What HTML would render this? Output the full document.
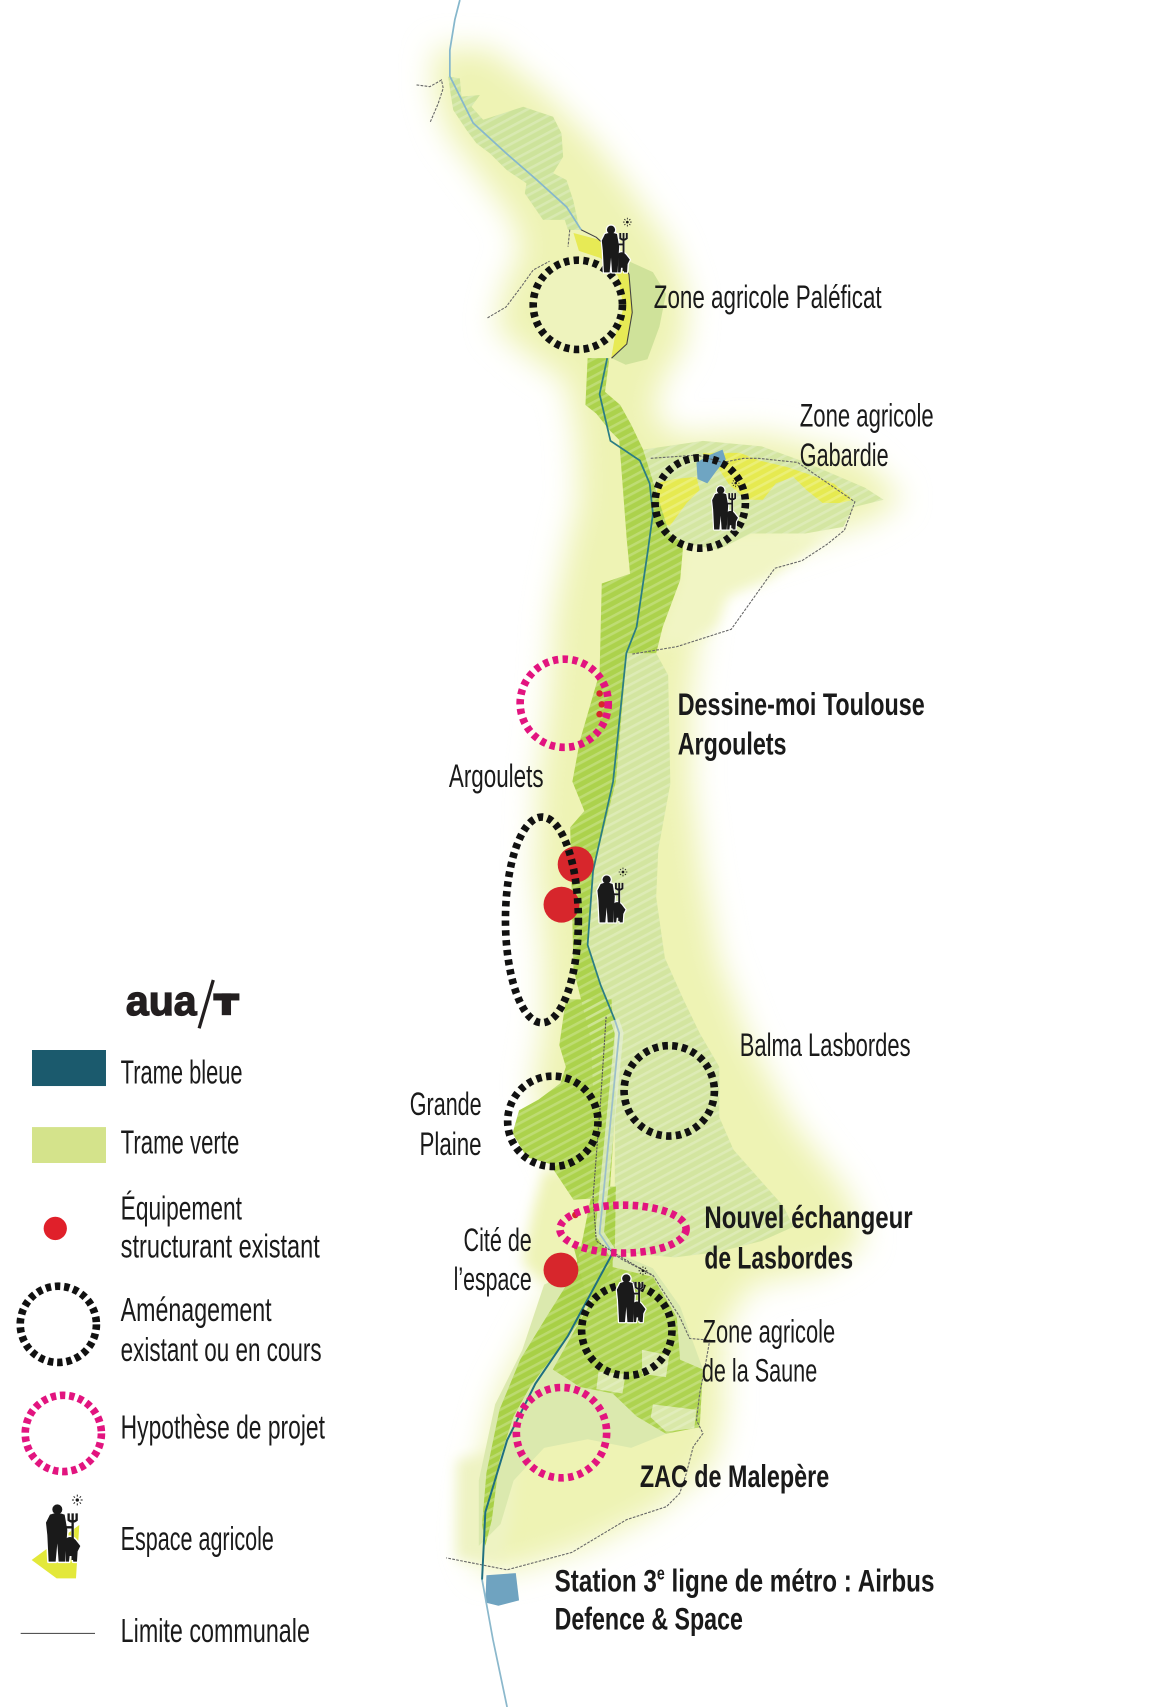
<!DOCTYPE html>
<html>
<head>
<meta charset="utf-8">
<style>
html,body{margin:0;padding:0;background:#fff;}
svg{display:block;}
.t{font-family:"Liberation Sans Narrow","Liberation Sans",Arial,sans-serif;fill:#1a1a1a;}
.b{font-weight:bold;}
</style>
</head>
<body>
<svg xmlns="http://www.w3.org/2000/svg" xmlns:xlink="http://www.w3.org/1999/xlink" width="1160" height="1707" viewBox="0 0 1066 1568" preserveAspectRatio="none">
<defs>
  <filter id="blur" x="-20%" y="-20%" width="140%" height="140%"><feGaussianBlur stdDeviation="14"/></filter>
  <filter id="blur2" x="-20%" y="-20%" width="140%" height="140%"><feGaussianBlur stdDeviation="6"/></filter>
  <pattern id="st" width="7" height="7" patternUnits="userSpaceOnUse" patternTransform="rotate(-28)">
    <rect x="0" y="0" width="7" height="2.4" fill="#ffffff" fill-opacity="0.22"/>
  </pattern>

  <polygon id="tb" points="411.9,70.4 422.6,72 424.1,88.8 441,87.3 433.3,98 444,110 480.8,98 508.3,107.2 516,122.5 517.5,144 508.3,159 520.6,165.4 526.7,183.7 532.8,211.3 522,211.3 519,202 499,202 482.3,177.6 483.8,168.4 465.5,156 450.2,140.9 437.9,131.7 428.7,119.4 416.5,101 414,85.7"/>
  <polygon id="plg" points="578,240 600,250 612,270 606,300 595,330 575,335 562,329 576,316 581,287 578,252"/>
  <polygon id="gab" points="591,413 646,405 700,410 741,425 795,448 812,459 784,466 775,484 740,490 690,490 660,505 628,499 615,490"/>
  <polygon id="s1" points="540,329 560,329 556,360 570,372 580,390 591,413 615,490 628,499 625,533 609,576 603,600 576,600 566,718 545,800 540,868 552,905 565,937 565,1000 545,1000 543,955 527,890 524,760 537,745 526,718 533,680 551,618 553,536 579,527 576,496 569,404 560,395 548,380 538,372"/>
  <polygon id="l1" points="603,600 614,620 616,720 605,780 603,824 611,880 628,918 643,949 661,980 661,1026 674,1056 704,1090 720,1108 729,1127 700,1140 660,1150 620,1155 565,1150 565,937 552,905 540,868 545,800 566,718 576,600"/>
  <polygon id="g1" points="520,918 562,918 566,1010 560,1100 527,1102 505,1069 484,1063 471,1041 477,1020 495,1010 515,995 520,980 514,960"/>
  <polygon id="b1" points="545,1090 566,1090 565,1150 563,1158 542,1188 533,1213 508,1246 487,1274 472,1301 459,1341 452,1396 446,1420 443,1400 447,1353 459,1295 478,1249 502,1210 527,1170 533,1150"/>
  <polygon id="sa" points="563,1164 600,1173 622,1210 625,1249 646,1258 643,1311 612,1317 585,1301 563,1280 533,1274 508,1258 533,1213"/>
  <polygon id="l2" points="500,1180 565,1150 600,1165 625,1200 646,1258 643,1310 612,1317 580,1330 540,1322 500,1330 472,1360 460,1400 440,1420 440,1360 455,1290 480,1240"/>

  <g id="fm">
    <g fill="#fff" stroke="#fff" stroke-width="9" stroke-linejoin="round">
      <circle cx="112" cy="88" r="15"/>
      <path d="M90,104 Q112,95 134,104 L142,150 L136,245 L116,245 L112,190 L107,245 L86,245 L82,165 L78,128 Z"/>
      <path d="M138,176 Q152,164 167,180 L181,198 L173,214 L171,245 L160,245 L157,228 L149,228 L147,245 L138,245 Z"/>
      <path d="M146,100 V120 Q158,130 170,120 V100 M158,100 V240 M132,142 H158" fill="none"/>
    </g>
    <g fill="#1a1a1a">
      <circle cx="112" cy="88" r="15"/>
      <path d="M90,104 Q112,95 134,104 L142,150 L136,245 L116,245 L112,190 L107,245 L86,245 L82,165 L78,128 Z"/>
      <path d="M138,176 Q152,164 167,180 L181,198 L173,214 L171,245 L160,245 L157,228 L149,228 L147,245 L138,245 Z"/>
      <path d="M146,100 V120 Q158,130 170,120 V100 M158,100 V240 M132,142 H158" fill="none" stroke="#1a1a1a" stroke-width="7"/>
    </g>
    <g stroke="#1a1a1a" stroke-width="3">
      <circle cx="172" cy="60" r="5" fill="#1a1a1a" stroke="none"/>
      <path d="M172,44 V50 M172,70 V76 M156,60 H162 M182,60 H188 M161,49 L165,53 M179,67 L183,71 M183,49 L179,53 M165,67 L161,71"/>
    </g>
  </g>
</defs>

<!-- ===== MAP ===== -->
<polygon filter="url(#blur)" fill="#eef3b4" points="400,45 450,45 500,85 545,130 580,175 615,225 632,275 628,320 610,345 600,380 620,400 700,398 790,420 830,458 800,478 720,505 660,525 645,560 635,640 635,720 645,800 660,880 688,955 728,1030 778,1095 795,1140 760,1165 690,1180 665,1220 665,1300 655,1345 600,1390 540,1420 480,1440 445,1445 432,1420 440,1350 458,1280 495,1210 520,1160 525,1090 505,1050 490,1000 500,940 500,880 492,800 495,720 505,640 510,560 522,500 532,460 530,400 520,350 490,330 455,300 465,260 480,230 470,200 440,160 410,120 398,80"/>
<polygon filter="url(#blur2)" fill="#f1f5c4" points="615,490 740,490 759,490 735,511 704,533 668,548 658,576 637,588 612,594 603,600 609,576 625,533 628,499"/>
<polygon filter="url(#blur2)" fill="#eef3b6" points="500,1075 560,1075 565,1150 530,1170 500,1180 480,1160 490,1110"/>
<polygon filter="url(#blur2)" fill="#eef3c2" points="420,1341 476,1330 470,1400 460,1433 420,1433"/>

<circle cx="531" cy="280" r="42" fill="#eef3bd"/>

<use href="#tb" fill="#cde39b"/>
<use href="#plg" fill="#cfe29a"/>
<use href="#gab" fill="#d4e6a2"/>
<use href="#l1" fill="#d3e5a0"/>
<use href="#l2" fill="#dbe9ae"/>

<polygon fill="#e7ea55" points="527,214 551.8,220.6 578,250 581.5,286.5 576.5,316 561.7,329 565,309.5 573,283 568,253.6 551.8,237 532,230.5"/>
<polygon fill="#e6ea50" points="603,444 620,440 640,438 643,450 631,462 615,484 606,475"/>
<polygon fill="#e6ea50" points="646,416 680,416 698,423 723,429 741,435 766,444 784,459 772,462 756,462 741,450 729,438 713,444 701,459 686,459 670,445 660,430 648,428"/>
<polygon fill="#e6e94e" points="563,1164 600,1173 612,1197 606,1210 585,1203 567,1194 561,1176"/>

<use href="#s1" fill="#acd24c"/>
<use href="#g1" fill="#acd24c"/>
<use href="#b1" fill="#a8d046"/>
<use href="#sa" fill="#aed350"/>
<polygon fill="#d9e8a8" points="590,1240 615,1245 612,1265 590,1262"/>
<polygon fill="#d9e8a8" points="550,1260 575,1262 572,1280 548,1276"/>
<polygon fill="#d9e8a8" points="600,1290 640,1295 638,1312 612,1315 598,1302"/>
<polygon fill="#acd24c" points="527,1145 563,1145 563,1194 540,1194"/>

<g fill="url(#st)">
<use href="#tb"/><use href="#gab"/><use href="#l1"/><use href="#s1"/><use href="#g1"/><use href="#b1"/><use href="#sa"/>
</g>

<polygon fill="#6fa5c2" points="640,425 652,418 664,413 667,422 658,433 650,444 641,440"/>
<polygon fill="#6fa3c0" points="447,1447 474,1445 477,1470 458,1475 446,1472"/>

<g fill="none" stroke="#666" stroke-width="1" stroke-dasharray="2.5 1.2">
  <polyline points="382.8,78 395,79.6 405.7,73.5 407.3,81 402.7,95 395,113"/>
  <polyline points="448,292 465,282 480,262 490,248 505,240"/>
  <polyline points="523.6,211 522,226.6"/>
  <polyline points="598,421 640.7,418 663.8,424.8 683.5,421 697,421 733,424.8 785.6,461 776,487 760,500 737,515 712,522 672,578 622,594 580,601"/>
  <polyline points="561,1150 572.6,1157.5 600,1171.3 624.6,1209.5 633.8,1229.5 652.2,1231 649,1249.4 643,1280 640,1304.5 646,1316.7 637,1329 630.7,1353.5 624.6,1371.8 612.4,1384 575.6,1396 525.5,1426 466,1442 410,1431"/>
</g>
<polyline fill="none" stroke="#444" stroke-width="1" points="534,211 548,218 570,238 578,252 581,287 576,316 562,329"/>

<polyline fill="none" stroke="#86b7cc" stroke-width="1.6" points="422.6,0 418,18 413.4,46 413.4,70 434.8,113 465.4,141 493,165 520.6,190 534,211"/>
<polyline fill="none" stroke="#2b7d84" stroke-width="1.6" points="558,329 551,362 561,405 588,423 597,444 600,472 595.5,505 585,576 575.6,600 563.4,718 545,800 540,868 552,905 565,937"/>
<polyline fill="none" stroke="#e6efd5" stroke-width="8" stroke-opacity="0.7" points="565,937 569,949 563,1010 551,1133 563,1151"/>
<polyline fill="none" stroke="#9cbfca" stroke-width="1.6" points="565,937 569,949 563,1010 551,1133 563,1151"/>
<polyline fill="none" stroke="#555" stroke-width="1" stroke-dasharray="2 1" points="557,934 552,1010 545,1100 548,1140 566,1152 600,1172"/>
<polyline fill="none" stroke="#1f6f80" stroke-width="1.8" points="563,1151 522,1227 492,1271 466,1323 446,1389 443,1451"/>
<polyline fill="none" stroke="#8bb8cc" stroke-width="1.6" points="443,1451 453,1506 466,1568"/>

<g fill="#d7262c">
  <circle cx="529" cy="794" r="16.5"/>
  <circle cx="516" cy="831" r="16.5"/>
  <circle cx="515.5" cy="1166.6" r="16"/>
  <circle cx="551" cy="637" r="3"/><circle cx="553" cy="647" r="3"/><circle cx="551" cy="656" r="3"/>
  <circle cx="528.7" cy="1116" r="3"/>
</g>

<g fill="none" stroke="#111" stroke-width="7" stroke-dasharray="5 4">
  <circle cx="531" cy="280" r="41"/>
  <circle cx="643.5" cy="462" r="41.5"/>
  <ellipse cx="498" cy="845" rx="33.5" ry="94.5"/>
  <circle cx="615" cy="1002" r="41.5"/>
  <circle cx="508" cy="1030" r="41.5"/>
  <circle cx="576" cy="1222" r="41.5"/>
</g>
<g fill="none" stroke="#e2147f" stroke-width="7" stroke-dasharray="5 4">
  <circle cx="518.5" cy="646" r="40.5"/>
  <ellipse cx="572.5" cy="1129" rx="58" ry="22"/>
  <circle cx="516" cy="1316" r="41.5"/>
</g>

<use href="#fm" transform="translate(533.5,189) scale(0.25)"/>
<use href="#fm" transform="translate(636.5,430) scale(0.23)"/>
<use href="#fm" transform="translate(529.5,786) scale(0.25)"/>
<use href="#fm" transform="translate(547,1152) scale(0.255)"/>

<g class="t" font-size="29.5">
  <text x="600.8" y="283" textLength="209.4" lengthAdjust="spacingAndGlyphs">Zone agricole Paléficat</text>
  <text x="735" y="392" textLength="123" lengthAdjust="spacingAndGlyphs">Zone agricole</text>
  <text x="735" y="428" textLength="81.6" lengthAdjust="spacingAndGlyphs">Gabardie</text>
  <text x="412.5" y="723" textLength="87" lengthAdjust="spacingAndGlyphs">Argoulets</text>
  <text x="679.8" y="970" textLength="157" lengthAdjust="spacingAndGlyphs">Balma Lasbordes</text>
  <text x="376.6" y="1024" textLength="66" lengthAdjust="spacingAndGlyphs">Grande</text>
  <text x="385.5" y="1061" textLength="57" lengthAdjust="spacingAndGlyphs">Plaine</text>
  <text x="426" y="1149" textLength="62.7" lengthAdjust="spacingAndGlyphs">Cité de</text>
  <text x="416.9" y="1185" textLength="71.8" lengthAdjust="spacingAndGlyphs">l’espace</text>
  <text x="645.7" y="1233" textLength="121.8" lengthAdjust="spacingAndGlyphs">Zone agricole</text>
  <text x="645" y="1269" textLength="106" lengthAdjust="spacingAndGlyphs">de la Saune</text>
</g>
<g class="t b" font-size="29">
  <text x="622.8" y="657" textLength="227" lengthAdjust="spacingAndGlyphs">Dessine-moi Toulouse</text>
  <text x="622.8" y="693" textLength="100" lengthAdjust="spacingAndGlyphs">Argoulets</text>
  <text x="647.3" y="1128" textLength="191.4" lengthAdjust="spacingAndGlyphs">Nouvel échangeur</text>
  <text x="647.3" y="1165" textLength="136.7" lengthAdjust="spacingAndGlyphs">de Lasbordes</text>
  <text x="588" y="1366" textLength="174" lengthAdjust="spacingAndGlyphs">ZAC de Malepère</text>
  <text x="509.7" y="1462" textLength="349" lengthAdjust="spacingAndGlyphs">Station 3<tspan font-size="17" dy="-11">e</tspan><tspan dy="11"> ligne de métro : Airbus</tspan></text>
  <text x="509.7" y="1497" textLength="173" lengthAdjust="spacingAndGlyphs">Defence &amp; Space</text>
</g>

<!-- ===== LEGEND ===== -->
<text x="115.7" y="932.4" font-family="'Liberation Sans',Arial,sans-serif" font-weight="bold" font-size="38.5" fill="#231f20" stroke="#231f20" stroke-width="1.2" textLength="65" lengthAdjust="spacingAndGlyphs">aua</text>
<line x1="183" y1="944.6" x2="196" y2="900.2" stroke="#231f20" stroke-width="3"/>
<rect x="196" y="912.5" width="24" height="6.5" fill="#231f20"/>
<rect x="203.8" y="912.5" width="8.5" height="20" fill="#231f20"/>

<rect x="29.4" y="964.5" width="68" height="33.1" fill="#1b5a6d"/>
<rect x="29.4" y="1035.3" width="68" height="33" fill="#d4e38b"/>
<circle cx="50.8" cy="1128.4" r="10.7" fill="#e0202a"/>
<circle cx="53.6" cy="1216.5" r="35" fill="none" stroke="#111" stroke-width="7" stroke-dasharray="5 3.5"/>
<circle cx="58.2" cy="1316.7" r="35" fill="none" stroke="#e2147f" stroke-width="7" stroke-dasharray="5 3.5"/>
<g transform="translate(18.37,1359.5) scale(0.3062)">
  <polygon points="35,240 178,135 168,295 110,295" fill="#e3e83a"/>
  <use href="#fm"/>
</g>
<line x1="19" y1="1500.4" x2="87.3" y2="1500.4" stroke="#555" stroke-width="1"/>

<g class="t" font-size="30.5">
  <text x="110.9" y="995.5" textLength="112" lengthAdjust="spacingAndGlyphs">Trame bleue</text>
  <text x="110.9" y="1059.6" textLength="109" lengthAdjust="spacingAndGlyphs">Trame verte</text>
  <text x="110.9" y="1120" textLength="111.4" lengthAdjust="spacingAndGlyphs">Équipement</text>
  <text x="110.9" y="1155.3" textLength="183" lengthAdjust="spacingAndGlyphs">structurant existant</text>
  <text x="110.9" y="1213.5" textLength="138.7" lengthAdjust="spacingAndGlyphs">Aménagement</text>
  <text x="110.9" y="1250" textLength="184.6" lengthAdjust="spacingAndGlyphs">existant ou en cours</text>
  <text x="110.9" y="1321.3" textLength="187.7" lengthAdjust="spacingAndGlyphs">Hypothèse de projet</text>
  <text x="110.9" y="1423.8" textLength="140.8" lengthAdjust="spacingAndGlyphs">Espace agricole</text>
  <text x="110.9" y="1508.1" textLength="173.9" lengthAdjust="spacingAndGlyphs">Limite communale</text>
</g>
</svg>
</body>
</html>
